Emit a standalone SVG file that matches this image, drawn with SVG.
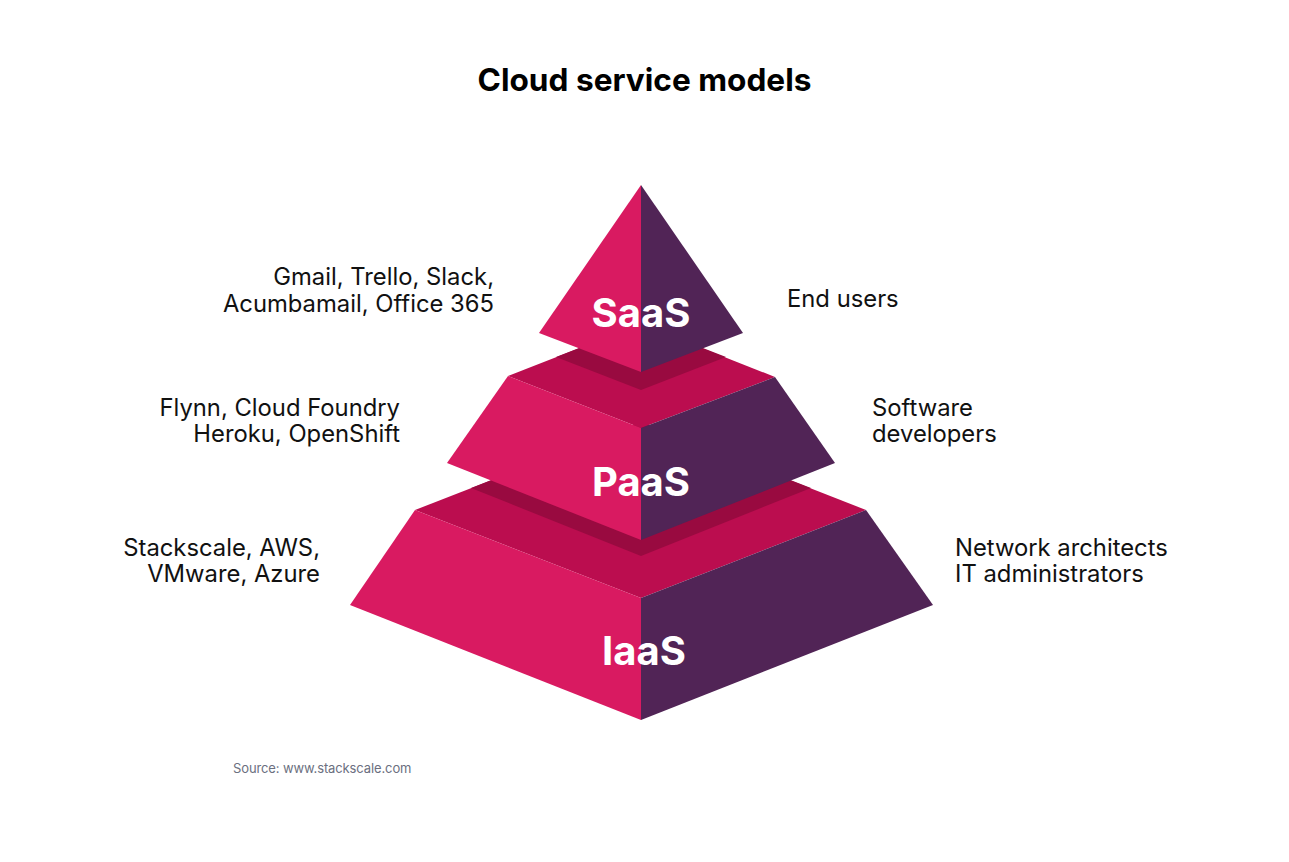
<svg xmlns="http://www.w3.org/2000/svg" width="1289" height="862" viewBox="0 0 1289 862">
  <style>
    .pink { fill: #D91A61; }
    .purple { fill: #512456; }
    .top { fill: #BB0D4F; }
    .shadow { fill: #990A40; }
    .tier { font-family: Inter, "Liberation Sans", sans-serif; font-weight: 700; font-size: 40px; fill: #FFFFFF; text-anchor: middle; }
    .lbl { font-family: Inter, "Liberation Sans", sans-serif; font-size: 23.8px; fill: #111111; }
    .r { text-anchor: end; }
    .title { font-family: Inter, "Liberation Sans", sans-serif; font-weight: 700; font-size: 31.6px; fill: #000000; text-anchor: middle; }
    .src { font-family: Inter, "Liberation Sans", sans-serif; font-size: 13px; fill: #6B6F80; letter-spacing: -0.12px; }
  </style>
  <rect width="1289" height="862" fill="#FFFFFF"/>
  <text class="title" x="644.5" y="91">Cloud service models</text>

  <g id="iaas">
    <polygon class="top" points="415,510 641,422 866,510 641,598"/>
    <polygon class="shadow" points="471,488 641,422 811,488 641,556"/>
    <polygon class="pink" points="415,510 641,598 641,720 350,605"/>
    <polygon class="purple" points="641,598 866,510 933,605 641,720"/>
    <text class="tier" x="644" y="665">IaaS</text>
  </g>

  <g id="paas">
    <polygon class="top" points="508,376 641,324 775,377 641,428"/>
    <polygon class="shadow" points="556,357 641,324 726,357 641,390"/>
    <polygon class="pink" points="508,376 641,428 641,540 447,463"/>
    <polygon class="purple" points="641,428 775,377 835,463 641,540"/>
    <text class="tier" x="641" y="496">PaaS</text>
  </g>

  <g id="saas">
    <polygon class="pink" points="641,185 641,372 539,333"/>
    <polygon class="purple" points="641,185 743,333 641,372"/>
    <text class="tier" x="641" y="327">SaaS</text>
  </g>

  <g id="labels-left">
    <text class="lbl r" x="494" y="285">Gmail, Trello, Slack,</text>
    <text class="lbl r" x="494" y="312">Acumbamail, Office 365</text>
    <text class="lbl r" x="400" y="416">Flynn, Cloud Foundry</text>
    <text class="lbl r" x="400" y="442">Heroku, OpenShift</text>
    <text class="lbl r" x="320" y="556">Stackscale, AWS,</text>
    <text class="lbl r" x="320" y="582">VMware, Azure</text>
  </g>

  <g id="labels-right">
    <text class="lbl" x="787" y="307">End users</text>
    <text class="lbl" x="872" y="416">Software</text>
    <text class="lbl" x="872" y="442">developers</text>
    <text class="lbl" x="955" y="556">Network architects</text>
    <text class="lbl" x="955" y="582">IT administrators</text>
  </g>

  <g id="connectors"></g>

  <text class="src" x="233" y="773">Source: www.stackscale.com</text>
</svg>
